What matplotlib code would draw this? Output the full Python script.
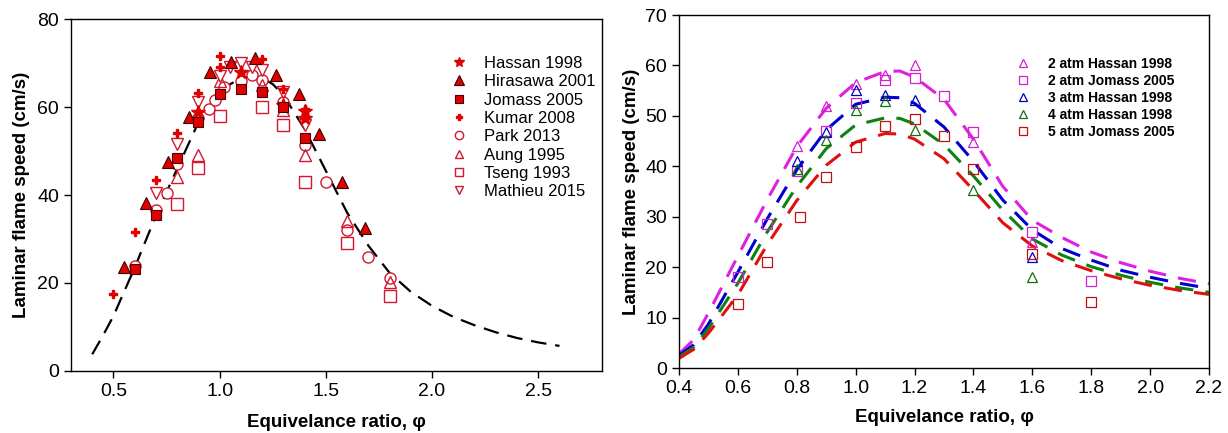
import numpy as np
import matplotlib
matplotlib.use("Agg")
from matplotlib import pyplot as plt

plt.rcParams['font.family'] = ['Liberation Sans', 'DejaVu Sans']

# ---- left panel: 1 atm data ----
fit_phi = [0.4, 0.45, 0.5, 0.6, 0.7, 0.8, 0.9, 1.0, 1.05, 1.1, 1.15, 1.2, 1.25, 1.3,
           1.4, 1.5, 1.6, 1.7, 1.8, 1.9, 2.0, 2.1, 2.2, 2.3, 2.4, 2.5, 2.6]
fit_sl = [3.8, 8.0, 12.5, 23.5, 35.3, 46.0, 56.5, 62.8, 65.2, 66.5, 67.0, 66.6, 65.2, 62.7,
          55.0, 45.5, 36.0, 28.5, 22.3, 18.0, 14.8, 12.3, 10.4, 8.8, 7.5, 6.5, 5.7]

hassan_phi = [0.9, 1.1, 1.3, 1.4, 1.4]
hassan_sl = [58.9, 68.0, 60.5, 59.0, 57.6]
hirasawa_phi = [0.55, 0.654, 0.756, 0.855, 0.953, 1.055, 1.165, 1.264, 1.372, 1.47, 1.574, 1.686]
hirasawa_sl = [23.7, 38.1, 47.6, 57.8, 68.0, 70.3, 71.1, 67.3, 62.9, 53.9, 43.0, 32.6]
jomass_phi = [0.6, 0.7, 0.8, 0.9, 1.0, 1.1, 1.2, 1.3, 1.4]
jomass_sl = [23.1, 35.5, 48.3, 56.5, 62.9, 64.2, 63.5, 60.0, 52.9]
kumar_phi = [0.5, 0.6, 0.7, 0.8, 0.9, 1.0, 1.0, 1.2, 1.3, 1.4]
kumar_sl = [17.5, 31.7, 43.4, 54.0, 63.1, 71.7, 69.0, 70.9, 64.2, 59.5]
park_phi = [0.6, 0.7, 0.75, 0.8, 0.9, 0.95, 0.98, 1.02, 1.1, 1.15, 1.2, 1.3, 1.4, 1.5, 1.6, 1.7, 1.8]
park_sl = [23.9, 36.6, 40.5, 47.0, 57.4, 59.5, 61.6, 64.6, 65.8, 67.2, 66.1, 61.2, 51.4, 42.9, 32.0, 26.0, 21.1]
aung_phi = [0.8, 0.9, 1.0, 1.2, 1.3, 1.4, 1.6, 1.8]
aung_sl = [44.2, 49.1, 65.8, 65.0, 59.3, 49.1, 34.2, 20.3]
tseng_phi = [0.8, 0.9, 1.0, 1.2, 1.3, 1.4, 1.6, 1.8]
tseng_sl = [38.0, 46.1, 58.0, 60.1, 55.9, 42.9, 29.0, 17.0]
mathieu_phi = [0.7, 0.8, 0.9, 1.0, 1.05, 1.1, 1.15, 1.2, 1.3, 1.4]
mathieu_sl = [40.4, 51.7, 61.2, 67.0, 69.2, 69.9, 69.2, 68.3, 63.5, 55.9]

# ---- right panel: elevated pressure ----
curve_phi = [0.4, 0.45, 0.5, 0.6, 0.7, 0.8, 0.9, 1.0, 1.1, 1.15, 1.2, 1.3, 1.4, 1.5, 1.6,
             1.7, 1.8, 1.9, 2.0, 2.1, 2.2]
sl_2atm = [2.8, 5.6, 10.9, 22.2, 33.4, 43.9, 51.5, 56.6, 58.8, 58.9, 57.7, 53.3, 45.4, 36.0, 29.3,
           25.9, 23.0, 20.9, 19.2, 17.8, 16.7]
sl_3atm = [2.5, 4.6, 8.7, 19.0, 29.6, 39.3, 47.2, 52.3, 53.7, 53.6, 52.5, 47.8, 41.0, 33.3, 27.4,
           23.7, 21.4, 19.4, 18.0, 16.8, 15.8]
sl_4atm = [2.2, 4.1, 7.8, 16.8, 27.0, 36.0, 43.5, 48.2, 49.6, 49.5, 48.4, 44.3, 38.1, 31.3, 25.6,
           22.4, 20.1, 18.4, 17.0, 15.9, 15.0]
sl_5atm = [1.9, 3.7, 6.9, 14.5, 24.5, 33.2, 40.2, 44.8, 46.5, 46.4, 45.4, 41.5, 35.3, 28.8, 24.2,
           21.3, 19.3, 17.7, 16.4, 15.4, 14.6]

h2_phi = [0.8, 0.9, 1.0, 1.1, 1.2, 1.4, 1.6]
h2_sl = [44.0, 52.0, 56.4, 58.1, 60.1, 44.9, 25.0]
j2_phi = [0.6, 0.7, 0.8, 0.9, 1.0, 1.1, 1.2, 1.3, 1.4, 1.6, 1.8]
j2_sl = [18.0, 28.5, 39.0, 47.0, 52.5, 57.1, 57.6, 53.9, 46.8, 26.9, 17.3]
h3_phi = [0.8, 0.9, 1.0, 1.1, 1.2, 1.6]
h3_sl = [41.0, 46.8, 55.1, 54.1, 53.2, 22.1]
h4_phi = [0.8, 0.9, 1.0, 1.1, 1.2, 1.4, 1.6]
h4_sl = [39.5, 45.2, 51.1, 53.0, 47.2, 35.3, 18.1]
j5_phi = [0.6, 0.7, 0.81, 0.9, 1.0, 1.1, 1.2, 1.3, 1.4, 1.6, 1.8]
j5_sl = [12.7, 21.1, 29.9, 37.8, 43.9, 48.0, 49.4, 46.0, 39.4, 22.6, 13.0]

red = '#e00000'
ored = '#d01830'

fig = plt.figure(figsize=(12.28, 4.33), dpi=100)
ax1 = fig.add_axes([0.0578, 0.1432, 0.4324, 0.8129])
ax2 = fig.add_axes([0.5529, 0.1501, 0.4316, 0.8152])

# left: correlation curve and measurements
ax1.plot(fit_phi, fit_sl, color='black', lw=1.6, dashes=(7, 4), zorder=2)
ax1.plot(hassan_phi, hassan_sl, ls='none', marker='*', ms=10, color=red, mec=red, label='Hassan 1998', zorder=4)
ax1.plot(hirasawa_phi, hirasawa_sl, ls='none', marker='^', ms=9, mfc=red, mec='#400000', mew=0.8,
         label='Hirasawa 2001', zorder=4)
ax1.plot(jomass_phi, jomass_sl, ls='none', marker='s', ms=7, mfc=red, mec='#500000', mew=0.8,
         label='Jomass 2005', zorder=4)
ax1.plot(kumar_phi, kumar_sl, ls='none', marker='P', ms=6, color=red, mec=red, label='Kumar 2008', zorder=5)
ax1.plot(park_phi, park_sl, ls='none', marker='o', ms=8, mfc='white', mec=ored, mew=1,
         label='Park 2013', zorder=3)
ax1.plot(aung_phi, aung_sl, ls='none', marker='^', ms=8, mfc='none', mec=ored, mew=1,
         label='Aung 1995', zorder=3)
ax1.plot(tseng_phi, tseng_sl, ls='none', marker='s', ms=8, mfc='none', mec=ored, mew=1,
         label='Tseng 1993', zorder=3)
ax1.plot(mathieu_phi, mathieu_sl, ls='none', marker='v', ms=8, mfc='white', mec=ored, mew=1,
         label='Mathieu 2015', zorder=3)

ax1.set_xlim(0.3, 2.8)
ax1.set_ylim(0, 80)
ax1.set_xticks([0.5, 1.0, 1.5, 2.0, 2.5])
ax1.set_yticks([0, 20, 40, 60, 80])
ax1.set_xlabel('Equivelance ratio, \u03c6', fontsize=13.5, fontweight='bold', labelpad=10)
ax1.set_ylabel('Laminar flame speed (cm/s)', fontsize=13.5, fontweight='bold', labelpad=5)
ax1.legend(loc='upper left', bbox_to_anchor=(0.715, 0.895), frameon=False, fontsize=12,
           handlelength=1.0, handletextpad=1.0, labelspacing=0.2, markerscale=0.75,
           borderaxespad=0, borderpad=0)

# right: curves at 2-5 atm with data
colors = ['#e020e0', '#0000d0', '#108010', '#e01010']
for sl, c in zip([sl_2atm, sl_3atm, sl_4atm, sl_5atm], colors):
    ax2.plot(curve_phi, sl, color=c, lw=2.2, dashes=(6, 4), zorder=2)

ax2.plot(h2_phi, h2_sl, ls='none', marker='^', ms=7, mfc='none', mec='#d020d0', mew=0.9,
         label='2 atm Hassan 1998', zorder=3)
ax2.plot(j2_phi, j2_sl, ls='none', marker='s', ms=7, mfc='none', mec='#d020d0', mew=0.9,
         label='2 atm Jomass 2005', zorder=3)
ax2.plot(h3_phi, h3_sl, ls='none', marker='^', ms=7, mfc='none', mec='#0000c0', mew=0.9,
         label='3 atm Hassan 1998', zorder=3)
ax2.plot(h4_phi, h4_sl, ls='none', marker='^', ms=7, mfc='none', mec='#107010', mew=0.9,
         label='4 atm Hassan 1998', zorder=3)
ax2.plot(j5_phi, j5_sl, ls='none', marker='s', ms=7, mfc='none', mec='#c01010', mew=0.9,
         label='5 atm Jomass 2005', zorder=3)

ax2.set_xlim(0.4, 2.2)
ax2.set_ylim(0, 70)
ax2.set_xticks(np.arange(0.4, 2.21, 0.2))
ax2.set_xticklabels(['%.1f' % v for v in np.arange(0.4, 2.21, 0.2)])
ax2.set_yticks(np.arange(0, 71, 10))
ax2.set_xlabel('Equivelance ratio, \u03c6', fontsize=13.5, fontweight='bold', labelpad=9)
ax2.set_ylabel('Laminar flame speed (cm/s)', fontsize=13.5, fontweight='bold', labelpad=4)
ax2.legend(loc='upper left', bbox_to_anchor=(0.636, 0.882), frameon=False,
           prop={'size': 10, 'weight': 'bold'}, handlelength=1.0, handletextpad=1.3,
           labelspacing=0.22, markerscale=0.85, borderaxespad=0, borderpad=0)

for ax in (ax1, ax2):
    ax.tick_params(direction='out', length=5, width=1, labelsize=14, colors='black')
    for s in ax.spines.values():
        s.set_linewidth(1)

fig.savefig('out.png', dpi=100)
